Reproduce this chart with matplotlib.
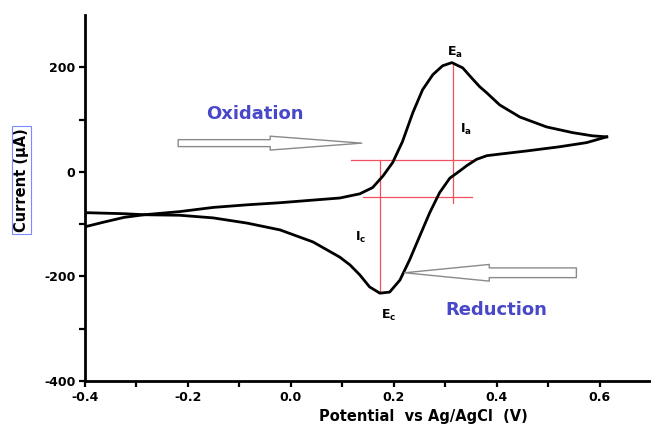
import numpy as np
import matplotlib
matplotlib.use('Agg')
import matplotlib.pyplot as plt
from matplotlib.patches import FancyArrowPatch

# forward (oxidation) sweep, potential (V) / current (uA)
fwd_v = [-0.40, -0.363, -0.324, -0.285, -0.216, -0.151, -0.085, -0.021, 0.043,
         0.095, 0.134, 0.159, 0.179, 0.198, 0.217, 0.237, 0.256, 0.276, 0.295,
         0.313, 0.334, 0.353, 0.367, 0.381, 0.406, 0.445, 0.497, 0.548, 0.586,
         0.614]
fwd_i = [-105, -96, -87, -82, -76, -68, -63, -59, -54,
         -50, -42, -30, -8, 18, 58, 113, 157, 186, 203,
         209, 199, 178, 163, 151, 128, 105, 86, 75, 69,
         67]

# reverse (reduction) sweep
rev_v = [0.614, 0.575, 0.522, 0.458, 0.406, 0.381, 0.361, 0.342, 0.33, 0.309,
         0.289, 0.27, 0.25, 0.231, 0.212, 0.192, 0.173, 0.153, 0.134, 0.115,
         0.095, 0.043, -0.021, -0.085, -0.151, -0.216, -0.285, -0.324, -0.363, -0.40]
rev_i = [67, 56, 48, 40, 34, 31, 24, 12, 3, -12,
         -40, -78, -124, -168, -207, -230, -232, -220, -197, -178,
         -163, -134, -111, -98, -88, -83, -82, -80, -79, -78]

# peak positions and baselines
Ea = (0.315, 209)
Ec = (0.173, -232)
base_a = -59      # bottom of Ia line
base_c = 23       # top of Ic line
hline_up = (0.116, 0.353, 23)
hline_lo = (0.140, 0.353, -48)

x_ticks = [-0.4, -0.2, 0.0, 0.2, 0.4, 0.6]
y_ticks = [-400, -200, 0, 200]

plt.rcParams.update({'font.family': 'DejaVu Sans', 'font.weight': 'bold',
                     'axes.unicode_minus': False})

fig = plt.figure(figsize=(6.51, 4.30), dpi=100)
ax = fig.add_axes([0.1306, 0.114, 0.8694, 0.851])

red = '#f0505f'
ax.plot(fwd_v, fwd_i, color='black', lw=2.0, solid_joinstyle='round', zorder=3)
ax.plot(rev_v, rev_i, color='black', lw=2.0, solid_joinstyle='round', zorder=3)

ax.plot([Ea[0], Ea[0]], [Ea[1], base_a], color=red, lw=0.9, zorder=2)
ax.plot([Ec[0], Ec[0]], [base_c, Ec[1]], color=red, lw=0.9, zorder=2)
ax.plot(hline_up[:2], [hline_up[2]] * 2, color=red, lw=0.9, zorder=2)
ax.plot(hline_lo[:2], [hline_lo[2]] * 2, color=red, lw=0.9, zorder=2)

# hollow arrows
arr_ox = FancyArrowPatch((-0.219, 55), (0.138, 55), shrinkA=0, shrinkB=0,
                         arrowstyle='simple,head_length=66,head_width=10,tail_width=5',
                         facecolor='white', edgecolor='#8a8a8a', lw=1.0, zorder=4)
arr_red = FancyArrowPatch((0.555, -193), (0.221, -193), shrinkA=0, shrinkB=0,
                          arrowstyle='simple,head_length=61,head_width=12,tail_width=7',
                          facecolor='white', edgecolor='#8a8a8a', lw=1.0, zorder=4)
ax.add_patch(arr_ox)
ax.add_patch(arr_red)

blue = '#4848c8'
ax.text(-0.07, 110, 'Oxidation', color=blue, fontsize=13, fontweight='bold',
        ha='center', va='center')
ax.text(0.40, -265, 'Reduction', color=blue, fontsize=13, fontweight='bold',
        ha='center', va='center')

ax.text(Ea[0] + 0.003, 228, r'E$_\mathregular{a}$', fontsize=9, ha='center', va='center')
ax.text(0.34, 82, r'I$_\mathregular{a}$', fontsize=9, ha='center', va='center')
ax.text(0.135, -125, r'I$_\mathregular{c}$', fontsize=9, ha='center', va='center')
ax.text(0.19, -275, r'E$_\mathregular{c}$', fontsize=9, ha='center', va='center')

ax.set_xlim(-0.4, 0.7)
ax.set_ylim(-400, 300)
ax.set_xticks(x_ticks)
ax.set_xticklabels(['%.1f' % v for v in x_ticks])
ax.set_yticks(y_ticks)
ax.set_xticks(np.arange(-0.3, 0.7, 0.2), minor=True)
ax.set_yticks([-300, -100, 100], minor=True)

for s in ['top', 'right']:
    ax.spines[s].set_visible(False)
for s in ['left', 'bottom']:
    ax.spines[s].set_linewidth(2.0)
ax.tick_params(which='both', direction='out', width=1.6, length=4,
               labelsize=9, pad=3)

ax.set_xlabel('Potential  vs Ag/AgCl  (V)', fontsize=10.5, fontweight='bold',
              va='center')
ax.xaxis.set_label_coords(0.597, -0.098)
ax.set_ylabel('Current (\u03bcA)', fontsize=10.5, fontweight='bold', va='center',
              bbox=dict(facecolor='none', edgecolor='#7a8cff', lw=0.8, pad=1.5))
ax.yaxis.set_label_coords(-0.112, 0.549)

plt.savefig('out.png', dpi=100)
